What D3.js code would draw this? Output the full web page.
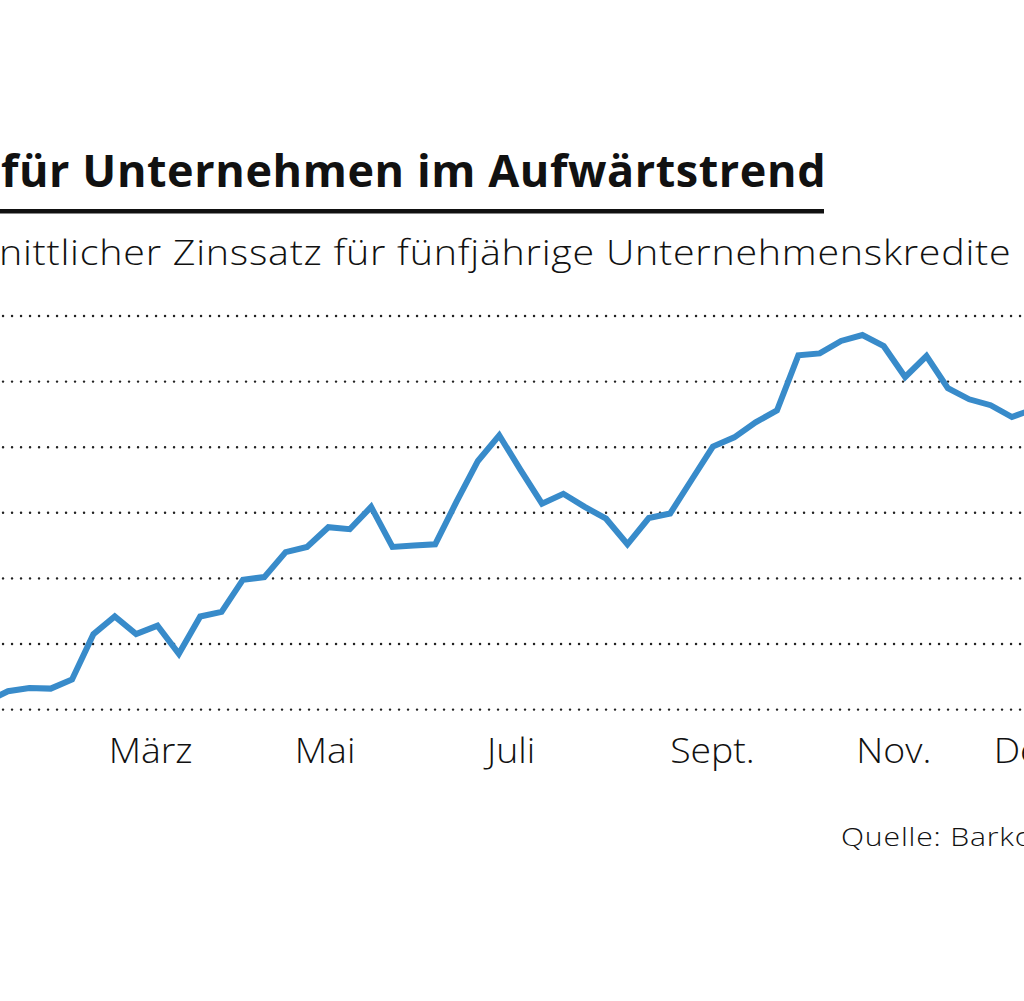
<!DOCTYPE html>
<html>
<head>
<meta charset="utf-8">
<script src="https://cdn.jsdelivr.net/npm/d3@7"></script>
<style>
  body { margin: 0; background: #fff; }
  svg { display: block; font-family: "Open Sans", sans-serif; }
</style>
</head>
<body>
<svg id="chart"></svg>
<script>
// weekly values (first one sits just left of the crop)
const WEEKS = [
  '2022-01-20', '2022-01-27', '2022-02-03', '2022-02-10', '2022-02-17', '2022-02-24',
  '2022-03-03', '2022-03-10', '2022-03-17', '2022-03-24', '2022-03-31',
  '2022-04-07', '2022-04-14', '2022-04-21', '2022-04-28',
  '2022-05-05', '2022-05-12', '2022-05-19', '2022-05-26',
  '2022-06-02', '2022-06-09', '2022-06-16', '2022-06-23', '2022-06-30',
  '2022-07-07', '2022-07-14', '2022-07-21', '2022-07-28',
  '2022-08-04', '2022-08-11', '2022-08-18', '2022-08-25',
  '2022-09-01', '2022-09-08', '2022-09-15', '2022-09-22', '2022-09-29',
  '2022-10-06', '2022-10-13', '2022-10-20', '2022-10-27',
  '2022-11-03', '2022-11-10', '2022-11-17', '2022-11-24',
  '2022-12-01', '2022-12-08', '2022-12-15', '2022-12-22', '2022-12-29'
];
const RATES = [
  1.06, 1.14, 1.165, 1.16, 1.23, 1.575,
  1.71, 1.575, 1.64, 1.425, 1.71,
  1.745, 1.99, 2.01, 2.20,
  2.24, 2.39, 2.375, 2.545,
  2.24, 2.25, 2.26, 2.585, 2.895,
  3.09, 2.825, 2.57, 2.645,
  2.545, 2.455, 2.26, 2.46,
  2.495, 2.75, 3.005, 3.075, 3.19,
  3.28, 3.70, 3.715, 3.81,
  3.855, 3.77, 3.535, 3.695,
  3.45, 3.365, 3.32, 3.23, 3.29
];
const Y_TICKS = [1.0, 1.5, 2.0, 2.5, 3.0, 3.5, 4.0];
const X_TICK_DATES = ['2022-03-01', '2022-05-01', '2022-07-03', '2022-09-01', '2022-11-01', '2022-12-16'];
const X_TICK_LABELS = ['März', 'Mai', 'Juli', 'Sept.', 'Nov.', 'Dez.'];

const TITLE = 'Zinsen für Unternehmen im Aufwärtstrend';
const SUBTITLE = 'Durchschnittlicher Zinssatz für fünfjährige Unternehmenskredite in %';
const SOURCE = 'Quelle: Barkow Consulting';

const W = 1024, H = 1001;
const parse = d3.timeParse('%Y-%m-%d');
const data = WEEKS.map((d, i) => ({date: parse(d), value: RATES[i]}));

const svg = d3.select('#chart').attr('width', W).attr('height', H);
svg.append('rect').attr('width', W).attr('height', H).attr('fill', '#fff');

// the picture is a crop, so the plot runs past both edges
const x = d3.scaleTime()
  .domain(d3.extent(data, d => d.date))
  .range([-13.4, 1033.3]);
const y = d3.scaleLinear().domain([1, 4]).range([709.6, 316]);

// dotted grid
svg.append('g')
  .selectAll('line')
  .data(Y_TICKS)
  .enter()
  .append('line')
  .attr('x1', -60).attr('x2', 1100)
  .attr('y1', d => y(d)).attr('y2', d => y(d))
  .attr('stroke', '#222')
  .attr('stroke-width', 2.4)
  .attr('stroke-linecap', 'round')
  .attr('stroke-dasharray', '0.1 8.9');

// month labels (a little wider, like the original typeface)
svg.append('g')
  .selectAll('text')
  .data(X_TICK_DATES)
  .enter()
  .append('text')
  .attr('transform', d => `translate(${x(parse(d))},763) scale(1.1,1)`)
  .attr('font-size', 34)
  .attr('font-weight', 300)
  .attr('fill', '#111')
  .text((d, i) => X_TICK_LABELS[i]);

// rate line
const line = d3.line().x(d => x(d.date)).y(d => y(d.value));
svg.append('path')
  .datum(data)
  .attr('d', line)
  .attr('fill', 'none')
  .attr('stroke', '#388bca')
  .attr('stroke-width', 6)
  .attr('stroke-linejoin', 'miter');

// text cut by the crop: the visible part has to span [x0, x1]
// part of it is taken by letter-spacing, the rest by a horizontal stretch
function placeCropped(sel, full, visible, x0, x1, lsShare) {
  const node = sel.node();
  const i0 = full.indexOf(visible);
  const wPre = node.getSubStringLength(0, i0);
  const wVis = node.getSubStringLength(i0, visible.length);
  const extra = (x1 - x0) - wVis;
  const ls = extra * lsShare / (visible.length - 1);
  const sx = (x1 - x0) / (wVis + ls * (visible.length - 1));
  const y0 = +sel.attr('y');
  sel.attr('y', null)
    .attr('letter-spacing', ls)
    .attr('x', -wPre - i0 * ls)
    .attr('transform', `translate(${x0},${y0}) scale(${sx},1)`);
}

const title = svg.append('text')
  .attr('y', 187)
  .attr('font-size', 44)
  .attr('font-weight', 700)
  .attr('fill', '#111')
  .text(TITLE);
placeCropped(title, TITLE, 'für Unternehmen im Aufwärtstrend', 1, 826, 0.5);

svg.append('rect')
  .attr('x', -400).attr('y', 209)
  .attr('width', 400 + 824).attr('height', 4.5)
  .attr('fill', '#111');

const sub = svg.append('text')
  .attr('y', 265)
  .attr('font-size', 34)
  .attr('font-weight', 300)
  .attr('fill', '#111')
  .text(SUBTITLE);
placeCropped(sub, SUBTITLE, 'nittlicher Zinssatz für fünfjährige Unternehmenskredite', -1, 1011, 0.2);

const src = svg.append('text')
  .attr('y', 846)
  .attr('font-size', 25)
  .attr('font-weight', 300)
  .attr('fill', '#111')
  .text(SOURCE);
placeCropped(src, SOURCE, 'Quelle: Bark', 841, 1014, 0.2);
</script>
</body>
</html>
